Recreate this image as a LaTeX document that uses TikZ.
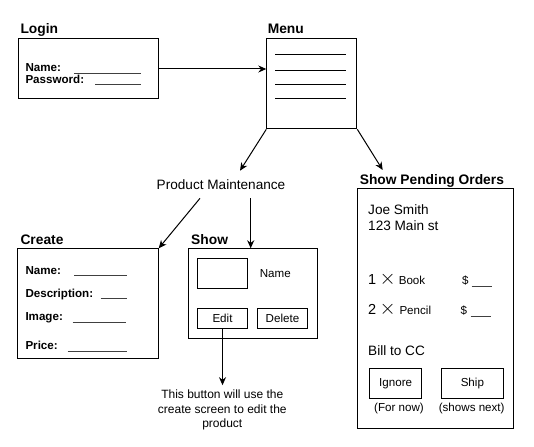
\documentclass[tikz,border=0pt]{standalone}
\usepackage{fontspec}
\setmainfont{Liberation Sans}
\usetikzlibrary{arrows.meta}
\begin{document}
\begin{tikzpicture}[x=1pt,y=-1pt,line width=1pt,
  box/.style={draw,rectangle,inner sep=0pt,anchor=north west},
  ttl/.style={font=\fontsize{13.8}{16}\selectfont\bfseries,anchor=base west,inner sep=0pt},
  fld/.style={font=\fontsize{11.6}{14}\selectfont\bfseries,anchor=base west,inner sep=0pt},
  txt/.style={font=\fontsize{13.6}{16}\selectfont,anchor=base west,inner sep=0pt},
  sml/.style={font=\fontsize{11.6}{14}\selectfont,inner sep=0pt},
  smlw/.style={font=\fontsize{11.6}{14}\selectfont,anchor=base west,inner sep=0pt},
  crs/.style={font=\fontsize{20}{20}\selectfont,anchor=base west,inner sep=0pt},
  uline/.style={line width=0.8pt,black!75},
  arr/.style={-{Stealth[length=8pt,width=7pt]}}]
\path[use as bounding box] (0,0) rectangle (534,446);

% ---- Login
\node[ttl] (tlogin) at (20,34) {Login};
\node[box,minimum width=140.2pt,minimum height=60pt] (login) at (17.5,38.3) {};
\node[fld] (lname) at (25,71.8) {Name:};
\node[fld] (lpass) at (25,83.2) {Password:};
\draw[uline] (74,73) -- (140.7,73);
\draw[uline] (95,84) -- (140.7,84);

% ---- Menu
\node[ttl] (tmenu) at (267.3,34) {Menu};
\node[box,minimum width=90pt,minimum height=90pt] (menu) at (266.3,38.3) {};
\foreach \yy in {55,71,85,98.3}{\draw (275.3,\yy) -- (346.3,\yy);}

\draw[arr] (login.east |- 0,69) -- (menu.west |- 0,69);

% ---- Product Maintenance
\node[font=\fontsize{13.6}{16}\selectfont,inner sep=0pt] (pm) at (221,185) {Product Maintenance};
\coordinate (pmtip) at (240,170.7);
\draw[arr] (menu.south west) -- (pmtip);

% ---- Pending orders
\node[ttl] (tpend) at (359.3,184) {Show Pending Orders};
\coordinate (pendtip) at (382.7,170);
\draw[arr] (menu.south east) -- (pendtip);
\node[box,minimum width=156pt,minimum height=240pt] (pend) at (357.3,188.3) {};
\node[txt] (joe) at (367.7,214.2) {Joe Smith};
\node[txt] (addr) at (367.7,230) {123 Main st};
\node[txt,font=\fontsize{14.5}{16}\selectfont] (q1) at (367.7,284) {1};
\node[crs] (x1) at (379,284.3) {$\times$};
\node[smlw] (book) at (398.3,284) {Book};
\node[smlw] (d1) at (461.5,284) {\$};
\draw[uline] (471.7,286) -- (491.7,286);
\node[txt,font=\fontsize{14.5}{16}\selectfont] (q2) at (367.7,314.5) {2};
\node[crs] (x2) at (379,314.8) {$\times$};
\node[smlw] (pencil) at (399,314.5) {Pencil};
\node[smlw] (d2) at (460,314.5) {\$};
\draw[uline] (470.5,316.5) -- (490.7,316.5);
\node[txt] (bill) at (367.7,355) {Bill to CC};
\node[box,minimum width=51.7pt,minimum height=30pt] (ignore) at (369.3,368.3) {};
\node[sml] at (ignore.center) {Ignore};
\node[box,minimum width=61.7pt,minimum height=30pt] (ship) at (441,368.3) {};
\node[sml] at (ship.center) {Ship};
\node[sml] (fornow) at (399,408.3) {(For now)};
\node[sml] (shownext) at (471.7,408.3) {(shows next)};

% ---- Create
\node[ttl] (tcreate) at (20,244) {Create};
\node[box,minimum width=140.4pt,minimum height=110pt] (create) at (17.3,248.3) {};
\node[fld] (cname) at (25,274) {Name:};
\node[fld] (cdesc) at (25,297.4) {Description:};
\node[fld] (cimg) at (25,320.8) {Image:};
\node[fld] (cprice) at (25,349.2) {Price:};
\draw[uline] (74,275) -- (126.7,275);
\draw[uline] (100.7,298.5) -- (126.7,298.5);
\draw[uline] (72.7,322) -- (125.7,322);
\draw[uline] (67.7,351) -- (126.7,351);

% ---- Show
\node[ttl] (tshow) at (190.7,244) {Show};
\node[box,minimum width=129.6pt,minimum height=90pt] (show) at (187.7,248.3) {};
\node[box,minimum width=50pt,minimum height=30pt] (img) at (196.7,258.3) {};
\node[smlw] (sname) at (259.3,277.4) {Name};
\node[box,minimum width=49.4pt,minimum height=20pt] (edit) at (197.3,308.3) {};
\node[sml] at (edit.center) {Edit};
\node[box,minimum width=50.6pt,minimum height=20pt] (delete) at (256.7,308.3) {};
\node[sml] at (delete.center) {Delete};

% ---- arrows from Product Maintenance
\coordinate (pmA) at (200,198.3);
\coordinate (pmB) at (250.7,198.3);
\draw[arr] (pmA) -- (create.north east);
\draw[arr] (pmB) -- (pmB |- show.north);

% ---- note
\node[font=\fontsize{12}{14.2}\selectfont,align=center,inner sep=0pt,anchor=north] (note) at (222.3,389.6)
  {This button will use the\\create screen to edit the\\product};
\draw[arr,shorten >=4.4pt] (edit.south) -- (edit.south |- note.north);
\end{tikzpicture}
\end{document}
